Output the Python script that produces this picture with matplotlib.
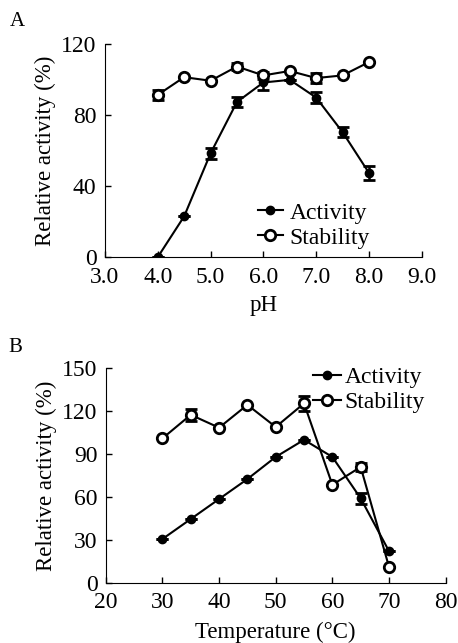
import matplotlib
matplotlib.use("Agg")
import matplotlib.pyplot as plt

plt.rcParams['font.family'] = ['Liberation Serif', 'DejaVu Serif']
plt.rcParams['font.size'] = 16.5

# panel A: pH
ph = [4.0, 4.5, 5.0, 5.5, 6.0, 6.5, 7.0, 7.5, 8.0]
ph_act = [0, 23, 58.5, 87.5, 98.5, 100, 90, 70.5, 47.5]
ph_act_err = [0, 0, 3, 3, 4, 0, 3, 3, 4]
ph_stab = [91.5, 101.5, 99.5, 107.5, 102.5, 105, 101, 102.5, 110]
ph_stab_err = [3, 0, 0, 2, 2, 0, 3, 0, 0]

# panel B: temperature
temp = [30, 35, 40, 45, 50, 55, 60, 65, 70]
t_act = [30.5, 44.5, 58.5, 72.5, 88, 100, 88, 59, 22]
t_act_err = [0, 0, 0, 0, 0, 0, 0, 4, 0]
t_stab = [101, 117.5, 108.5, 124.5, 109, 125.5, 68.5, 81, 11]
t_stab_err = [0, 4, 0, 0, 0, 5, 0, 3, 0]

fig = plt.figure(figsize=(4.58, 6.43), dpi=100)
ax1 = fig.add_axes([0.229, 0.600, 0.692, 0.331])
ax2 = fig.add_axes([0.231, 0.094, 0.742, 0.333])

def draw(ax, x, act, act_err, stab, stab_err):
    ax.errorbar(x, act, yerr=act_err, color='black', lw=1.5, marker='o', ms=6,
                mfc='black', mec='black', capsize=4.5, elinewidth=1.8, capthick=2,
                label='Activity', zorder=3)
    ax.errorbar(x, stab, yerr=stab_err, color='black', lw=1.5, marker='o', ms=7.5,
                mfc='white', mec='black', mew=2, capsize=4.5, elinewidth=1.8,
                capthick=2, label='Stability', zorder=3)
    for s in ['top', 'right']:
        ax.spines[s].set_visible(False)
    ax.tick_params(direction='in', length=4, width=1, labelsize=17)
    ax.tick_params(axis='y', pad=6)
    ax.tick_params(axis='x', pad=7)
    ax.set_ylabel('Relative activity (%)', labelpad=4)

def legend(ax, anchor, loc, hl, pad):
    h, l = ax.get_legend_handles_labels()
    h = [hh[0] for hh in h]
    ax.legend(h, l, loc=loc, bbox_to_anchor=anchor, frameon=False,
              fontsize=17, handlelength=hl, handletextpad=pad,
              labelspacing=0.15, borderpad=0, borderaxespad=0)

draw(ax1, ph, ph_act, ph_act_err, ph_stab, ph_stab_err)
ax1.set_xlim(3.0, 9.0)
ax1.set_ylim(0, 120)
ax1.set_xticks([3.0, 4.0, 5.0, 6.0, 7.0, 8.0, 9.0])
ax1.set_xticklabels(['3.0', '4.0', '5.0', '6.0', '7.0', '8.0', '9.0'])
ax1.set_yticks([0, 40, 80, 120])
ax1.set_xlabel('pH', labelpad=5)
legend(ax1, (0.483, 0.04), 'lower left', 1.05, 0.3)

draw(ax2, temp, t_act, t_act_err, t_stab, t_stab_err)
ax2.set_xlim(20, 80)
ax2.set_ylim(0, 150)
ax2.set_xticks([20, 30, 40, 50, 60, 70, 80])
ax2.set_yticks([0, 30, 60, 90, 120, 150])
ax2.set_xlabel('Temperature (°C)', labelpad=6)
legend(ax2, (0.609, 1.008), 'upper left', 1.2, 0.15)

fig.text(0.022, 0.967, 'A', fontsize=15, va='center', ha='left')
fig.text(0.018, 0.459, 'B', fontsize=15, va='center', ha='left')

fig.savefig('out.png', dpi=100)
